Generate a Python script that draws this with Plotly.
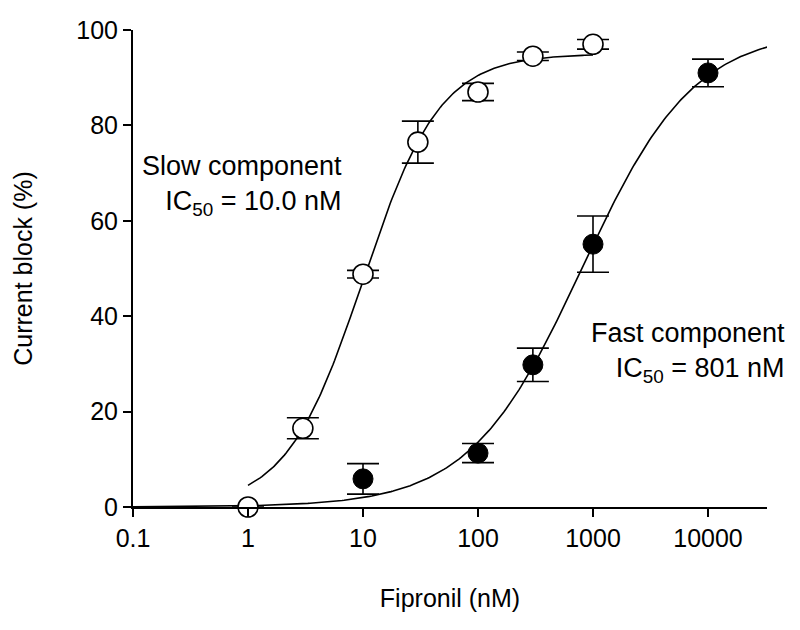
import numpy as np
import plotly.graph_objects as go

# Data
slow_x = [1, 3, 10, 30, 100, 300, 1000]
slow_y = [0, 16.5, 48.8, 76.5, 87.0, 94.5, 97.0]
slow_err = [0, 2.2, 0.8, 4.4, 1.8, 0.9, 1.0]

fast_x = [10, 100, 300, 1000, 10000]
fast_y = [5.9, 11.3, 29.8, 55.1, 91.0]
fast_err = [3.2, 2.0, 3.5, 5.9, 2.9]

# Hill fit parameters
slow_ic50, slow_top, slow_n = 10.0, 95.0, 1.3
fast_ic50, fast_top, fast_n = 801.0, 100.0, 0.89
slow_fit_range = (1, 1000)
fast_fit_range = (0.1, 35000)

x_ticks = [0.1, 1, 10, 100, 1000, 10000]
x_ticklabels = ["0.1", "1", "10", "100", "1000", "10000"]
y_ticks = [0, 20, 40, 60, 80, 100]


def hill(x, ic50, top, n):
    return top / (1 + (ic50 / x) ** n)


xs_slow = np.logspace(np.log10(slow_fit_range[0]), np.log10(slow_fit_range[1]), 200)
xs_fast = np.logspace(np.log10(fast_fit_range[0]), np.log10(fast_fit_range[1]), 300)

FONT = "Liberation Sans, Arial, sans-serif"
ANN_SIZE = 27

fig = go.Figure()
fig.add_trace(go.Scatter(x=xs_slow, y=hill(xs_slow, slow_ic50, slow_top, slow_n), mode="lines",
                         line=dict(color="black", width=1.6), showlegend=False, hoverinfo="skip"))
fig.add_trace(go.Scatter(x=xs_fast, y=hill(xs_fast, fast_ic50, fast_top, fast_n), mode="lines",
                         line=dict(color="black", width=1.6), showlegend=False, hoverinfo="skip"))
fig.add_trace(go.Scatter(x=slow_x, y=slow_y, mode="markers",
                         marker=dict(symbol="circle", size=20, color="white",
                                     line=dict(color="black", width=1.6)),
                         error_y=dict(type="data", array=slow_err, visible=True,
                                      color="black", thickness=1.6, width=16),
                         cliponaxis=False, showlegend=False))
fig.add_trace(go.Scatter(x=fast_x, y=fast_y, mode="markers",
                         marker=dict(symbol="circle", size=20, color="black",
                                     line=dict(color="black", width=1)),
                         error_y=dict(type="data", array=fast_err, visible=True,
                                      color="black", thickness=1.6, width=16),
                         cliponaxis=False, showlegend=False))

fig.add_annotation(x=0.333, y=67.4, xref="paper", yref="y",
                   text="Slow component<br>IC<sub>50</sub> = 10.0 nM",
                   showarrow=False, xanchor="right", yanchor="middle", align="right",
                   font=dict(family=FONT, size=ANN_SIZE, color="black"))
fig.add_annotation(x=1.031, y=32.3, xref="paper", yref="y",
                   text="Fast component<br>IC<sub>50</sub> = 801 nM",
                   showarrow=False, xanchor="right", yanchor="middle", align="right",
                   font=dict(family=FONT, size=ANN_SIZE, color="black"))

fig.update_layout(
    width=800, height=630,
    margin=dict(l=125, r=41, t=22, b=131),
    plot_bgcolor="white", paper_bgcolor="white",
    font=dict(family=FONT, size=25, color="black"),
    xaxis=dict(type="log", range=[-1, 4.513], tickvals=x_ticks, ticktext=x_ticklabels,
               showgrid=False, zeroline=False, showline=True, linecolor="black", linewidth=2,
               ticks="outside", ticklen=8, tickwidth=2, tickcolor="black", automargin=False,
               tickfont=dict(family=FONT, size=25),
               title=dict(text="Fipronil (nM)", font=dict(family=FONT, size=25), standoff=38)),
    yaxis=dict(range=[0, 100], tickvals=y_ticks, showgrid=False, zeroline=False,
               showline=True, linecolor="black", linewidth=2, automargin=False,
               ticks="outside", ticklen=8, tickwidth=2, tickcolor="black",
               tickfont=dict(family=FONT, size=25),
               title=dict(text="Current block (%)", font=dict(family=FONT, size=25), standoff=37)),
)

fig.write_html("out.html")
